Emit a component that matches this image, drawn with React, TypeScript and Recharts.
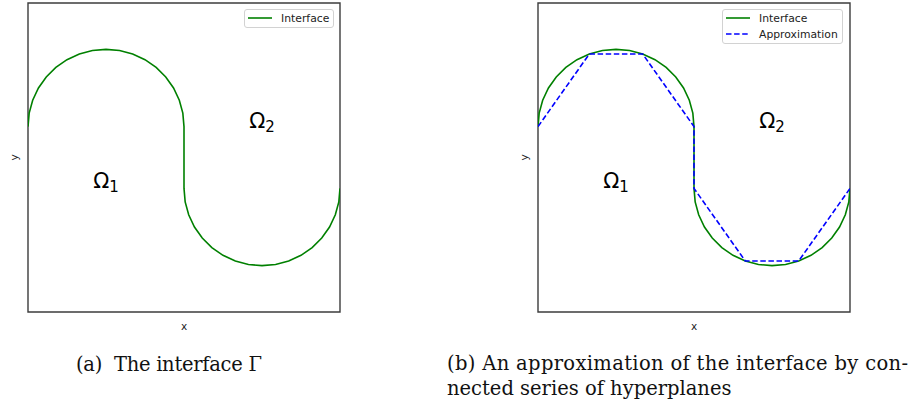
import { ComposedChart, Line, Scatter, XAxis, YAxis, ReferenceArea, Legend } from "recharts";

// Interface curve: upper half circle, vertical jump at x = 0, lower half circle
const interfaceX = [
  -2, -1.985, -1.94, -1.866, -1.766, -1.643, -1.5, -1.342, -1.174, -1, -0.826, -0.658, -0.5, -0.357, -0.234, -0.134, -0.06,
  -0.015, 0, 0, 0.015, 0.06, 0.134, 0.234, 0.357, 0.5, 0.658, 0.826, 1, 1.174, 1.342, 1.5, 1.643, 1.766, 1.866, 1.94, 1.985, 2,
];
const interfaceY = [
  0.4, 0.574, 0.742, 0.9, 1.043, 1.166, 1.266, 1.34, 1.385, 1.4, 1.385, 1.34, 1.266, 1.166, 1.043, 0.9, 0.742, 0.574, 0.4,
  -0.4, -0.574, -0.742, -0.9, -1.043, -1.166, -1.266, -1.34, -1.385, -1.4, -1.385, -1.34, -1.266, -1.166, -1.043, -0.9,
  -0.742, -0.574, -0.4,
];

// Piecewise linear approximation (connected hyperplanes)
const approxX = [-2, -1.342, -0.658, 0, 0, 0.658, 1.342, 2];
const approxY = [0.4, 1.34, 1.34, 0.4, -0.4, -1.34, -1.34, -0.4];

const domainMin = -2;
const domainMax = 2;

const regionSubs = ["1", "2"];
const regionX = [-1, 1];
const regionY = [-0.4, 0.38];

const seriesNames = ["Interface", "Approximation"];
const seriesColors = ["#008000", "#0000ff"];
const seriesDash = ["", "5.5 2.6"];

const captionA = ["(a)  The interface \u0393"];
const captionB = ["(b) An approximation of the interface by con-", "nected series of hyperplanes"];

const interfaceData = interfaceX.map((x, i) => ({ x, y: interfaceY[i] }));
const approxData = approxX.map((x, i) => ({ x, y: approxY[i] }));
const regionData = regionX.map((x, i) => ({ x, y: regionY[i], sub: regionSubs[i] }));

const sans = "'DejaVu Sans', sans-serif";

const RegionLabel = (props: any) => {
  const { cx, cy, payload } = props;
  return (
    <text x={cx} y={cy} textAnchor="middle" fontFamily={sans} fill="#000">
      <tspan fontSize={21}>{"\u03a9"}</tspan>
      <tspan fontSize={15} dy={4}>
        {payload.sub}
      </tspan>
    </text>
  );
};

const LegendBox = ({ count, width }: { count: number; width: number }) => (
  <div
    style={{
      width,
      boxSizing: "border-box",
      border: "1px solid #d2d2d2",
      borderRadius: 3,
      background: "#fff",
      padding: "0 0 1px 3px",
      fontFamily: sans,
      fontSize: 10.8,
      color: "#222",
    }}
  >
    {seriesNames.slice(0, count).map((name, i) => (
      <div key={name} style={{ display: "flex", alignItems: "center", height: 16 }}>
        <svg width={24} height={4} style={{ marginRight: 9 }}>
          <line x1={0} y1={2} x2={24} y2={2} stroke={seriesColors[i]} strokeWidth={1.6} strokeDasharray={seriesDash[i]} />
        </svg>
        <span>{name}</span>
      </div>
    ))}
  </div>
);

type PanelProps = { left: number; showApprox: boolean; legendLeft: number; legendWidth: number };

const Panel = ({ left, showApprox, legendLeft, legendWidth }: PanelProps) => (
  <div style={{ position: "absolute", left, top: 0 }}>
    <ComposedChart width={350} height={340} margin={{ top: 3, right: 10, bottom: 0, left: 0 }}>
      <XAxis
        type="number"
        dataKey="x"
        domain={[domainMin, domainMax]}
        allowDataOverflow
        tick={false}
        tickLine={false}
        axisLine={false}
        height={28}
        label={{ value: "x", position: "center", fontFamily: sans, fontSize: 10.5, fill: "#222" }}
      />
      <YAxis
        type="number"
        dataKey="y"
        domain={[domainMin, domainMax]}
        allowDataOverflow
        tick={false}
        tickLine={false}
        axisLine={false}
        width={28}
        label={{ value: "y", position: "center", angle: -90, fontFamily: sans, fontSize: 10.5, fill: "#222" }}
      />
      <ReferenceArea
        x1={domainMin}
        x2={domainMax}
        y1={domainMin}
        y2={domainMax}
        fill="none"
        fillOpacity={0}
        stroke="#3c3c3c"
        strokeWidth={1.4}
      />
      <Line
        data={interfaceData}
        dataKey="y"
        name={seriesNames[0]}
        type="linear"
        stroke={seriesColors[0]}
        strokeWidth={1.6}
        dot={false}
        activeDot={false}
        isAnimationActive={false}
      />
      {showApprox && (
        <Line
          data={approxData}
          dataKey="y"
          name={seriesNames[1]}
          type="linear"
          stroke={seriesColors[1]}
          strokeWidth={1.6}
          strokeDasharray={seriesDash[1]}
          dot={false}
          activeDot={false}
          isAnimationActive={false}
        />
      )}
      <Scatter data={regionData} dataKey="y" legendType="none" shape={RegionLabel} isAnimationActive={false} />
      <Legend
        layout="horizontal"
        verticalAlign="middle"
        align="center"
        wrapperStyle={{ left: legendLeft, top: 9, width: legendWidth }}
        content={() => <LegendBox count={showApprox ? 2 : 1} width={legendWidth} />}
      />
    </ComposedChart>
  </div>
);

const Captions = () => (
  <svg width={913} height={402} style={{ position: "absolute", left: 0, top: 0, pointerEvents: "none" }}>
    <g fontFamily="'DejaVu Serif', serif" fontSize={19.5} fill="#111">
      {captionA.map((t, i) => (
        <text key={t} x={76} y={371 + i * 25} xmlSpace="preserve" textLength={186} lengthAdjust="spacing">
          {t}
        </text>
      ))}
      <text x={447} y={370} xmlSpace="preserve" textLength={461} lengthAdjust="spacing">
        {captionB[0]}
      </text>
      <text x={447} y={395} xmlSpace="preserve">
        {captionB[1]}
      </text>
    </g>
  </svg>
);

export default function App() {
  return (
    <div style={{ position: "absolute", left: 0, top: 0, width: 913, height: 402, background: "#fff", overflow: "hidden" }}>
      <Panel left={0} showApprox={false} legendLeft={244} legendWidth={90} />
      <Panel left={510} showApprox legendLeft={212} legendWidth={121} />
      <Captions />
    </div>
  );
}
